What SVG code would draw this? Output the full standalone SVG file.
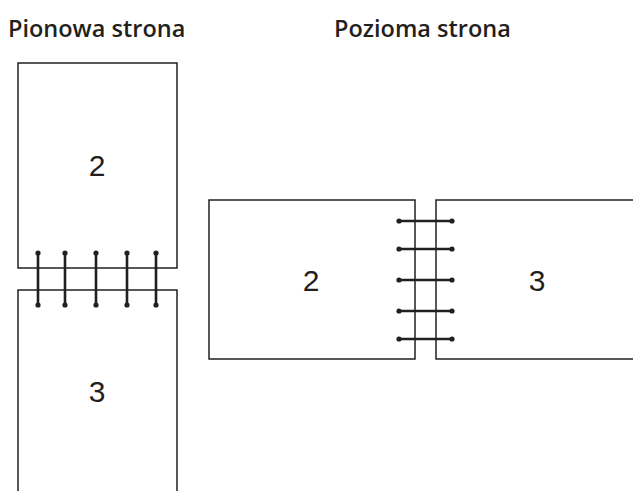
<svg xmlns="http://www.w3.org/2000/svg" width="633" height="491" viewBox="0 0 633 491">
<style>
.title{font-family:"Open Sans",Lato,"Liberation Sans",sans-serif;font-weight:600;font-size:23.5px;fill:#231f20}
.num{font-family:"Liberation Sans",Arial,sans-serif;font-size:30px;fill:#231f20;text-anchor:middle}
.page{fill:none;stroke:#231f20;stroke-width:1.5}
.ring{stroke:#231f20;stroke-width:2.6;fill:none}
.dot{fill:#231f20}
</style>
<rect width="633" height="491" fill="#fff"/>
<text class="title" x="8" y="37">Pionowa strona</text>
<text class="title" x="334" y="37">Pozioma strona</text>
<g id="portrait-page2">
<rect class="page" x="18" y="63" width="159" height="205"/>
<text class="num" x="97" y="176">2</text>
</g>
<g id="portrait-page3">
<path class="page" d="M18,495 V290 H177 V495"/>
<text class="num" x="97" y="402">3</text>
</g>
<g id="landscape-page2">
<rect class="page" x="209" y="200" width="206" height="159"/>
<text class="num" x="311" y="291">2</text>
</g>
<g id="landscape-page3">
<path class="page" d="M640,200 H436 V359 H640"/>
<text class="num" x="537" y="291">3</text>
</g>
<g id="connectors">
<g id="portrait-rings">
<path class="ring" d="M38,253V305M65,253V305M96,253V305M127,253V305M156,253V305"/>
<g class="dot">
<circle cx="38" cy="253" r="2.6"/><circle cx="65" cy="253" r="2.6"/><circle cx="96" cy="253" r="2.6"/><circle cx="127" cy="253" r="2.6"/><circle cx="156" cy="253" r="2.6"/>
<circle cx="38" cy="305" r="2.6"/><circle cx="65" cy="305" r="2.6"/><circle cx="96" cy="305" r="2.6"/><circle cx="127" cy="305" r="2.6"/><circle cx="156" cy="305" r="2.6"/>
</g>
</g>
<g id="landscape-rings">
<path class="ring" d="M399,221H452M399,249H452M399,280H452M399,311H452M399,339H452"/>
<g class="dot">
<circle cx="399" cy="221" r="2.6"/><circle cx="399" cy="249" r="2.6"/><circle cx="399" cy="280" r="2.6"/><circle cx="399" cy="311" r="2.6"/><circle cx="399" cy="339" r="2.6"/>
<circle cx="452" cy="221" r="2.6"/><circle cx="452" cy="249" r="2.6"/><circle cx="452" cy="280" r="2.6"/><circle cx="452" cy="311" r="2.6"/><circle cx="452" cy="339" r="2.6"/>
</g>
</g>
</g>
</svg>
